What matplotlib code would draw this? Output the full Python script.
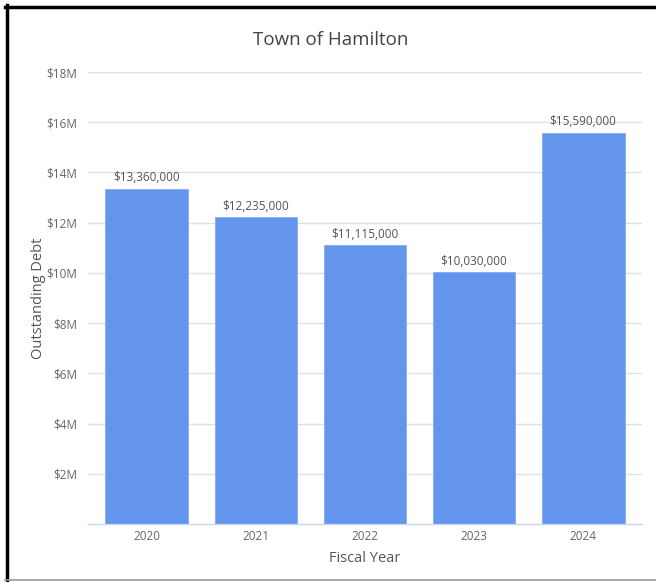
import matplotlib
matplotlib.use("Agg")
import matplotlib.pyplot as plt
from matplotlib.lines import Line2D
from matplotlib.ticker import FixedLocator, FuncFormatter

plt.rcParams['font.family'] = ['Open Sans', 'DejaVu Sans']

years = ["2020", "2021", "2022", "2023", "2024"]
debt = [13360000, 12235000, 11115000, 10030000, 15590000]
y_ticks = [2e6, 4e6, 6e6, 8e6, 10e6, 12e6, 14e6, 16e6, 18e6]

W, H = 656, 582
fig = plt.figure(figsize=(W / 100, H / 100), dpi=100)
ax = fig.add_axes([88 / W, 58 / H, (642 - 88) / W, (524 - 72) / H])

x = range(len(years))
bars = ax.bar(x, debt, width=0.76, color="#6495ED", edgecolor="#85abf2",
              linewidth=0.6, zorder=3)

for xi, v in zip(x, debt):
    ax.annotate(f"${v:,.0f}", (xi, v), xytext=(0, 3), textcoords="offset points",
                ha="center", va="bottom", fontsize=8.5, color="#555555", zorder=4)

ax.set_xlim(-0.54, 4.54)
ax.set_ylim(0, 18e6)
ax.set_xticks(list(x))
ax.set_xticklabels(years)
ax.yaxis.set_major_locator(FixedLocator(y_ticks))
ax.yaxis.set_major_formatter(FuncFormatter(lambda v, p: f"${v / 1e6:.0f}M"))
ax.grid(axis="y", color="#e0e0e0", linewidth=1, zorder=0)
ax.tick_params(axis="both", length=0, labelsize=8.5, labelcolor="#666666")
ax.tick_params(axis="y", pad=8)
ax.tick_params(axis="x", pad=4)

for s in ["top", "right", "left"]:
    ax.spines[s].set_visible(False)
ax.spines["bottom"].set_color("#ccd6eb")
ax.spines["bottom"].set_linewidth(1)
ax.spines["bottom"].set_zorder(5)

ax.set_xlabel("Fiscal Year", fontsize=10.5, color="#555555", labelpad=6)
ax.set_ylabel("Outstanding Debt", fontsize=10.5, color="#555555", labelpad=0)
fig.text(331 / W, 1 - 40 / H, "Town of Hamilton", ha="center", va="center",
         fontsize=13.5, color="#444444")

# outer frame
fig.add_artist(Line2D([5 / W, 1], [1 - 6.5 / H, 1 - 6.5 / H], color="black",
                      linewidth=2.5, transform=fig.transFigure))
fig.add_artist(Line2D([7 / W, 7 / W], [1 - 5 / H, 2 / H], color="black",
                      linewidth=2.5, transform=fig.transFigure))
fig.add_artist(Line2D([5 / W, 1], [2 / H, 2 / H], color="#999999",
                      linewidth=1.2, transform=fig.transFigure))

fig.savefig("out.png", dpi=100)
